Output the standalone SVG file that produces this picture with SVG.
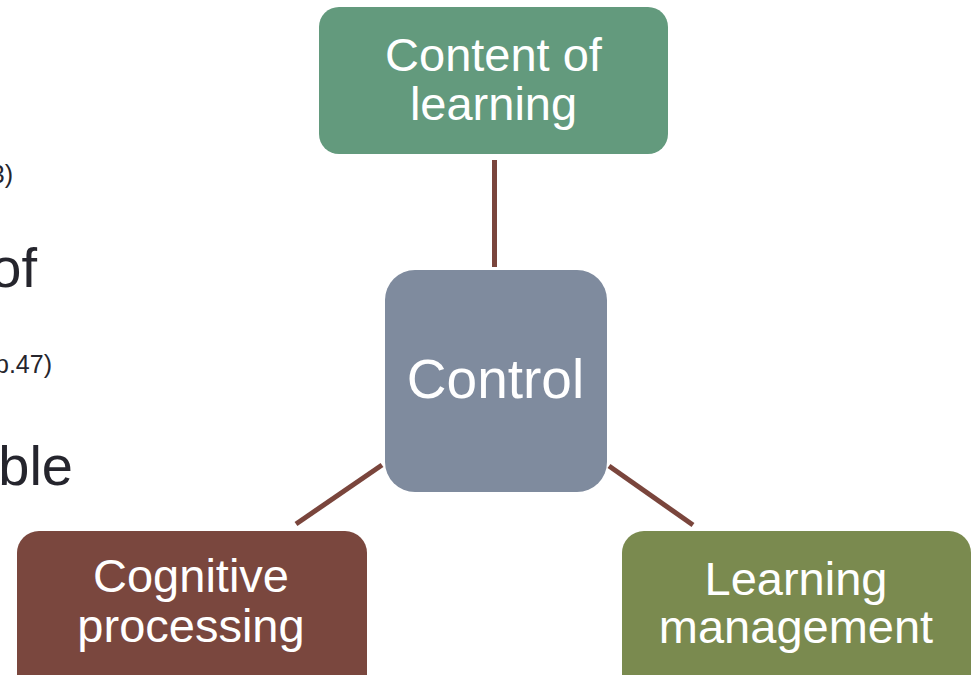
<svg xmlns="http://www.w3.org/2000/svg" width="974" height="675" viewBox="0 0 974 675">
<style>
.bg{fill:#ffffff}
.lbl{font-family:"Liberation Sans",Arial,sans-serif;fill:#ffffff;text-anchor:middle}
.side{font-family:"Liberation Sans",Arial,sans-serif;fill:#25252d;text-anchor:end}
.conn{stroke:#7a453c;stroke-width:5;fill:none}
</style>
<rect class="bg" x="0" y="0" width="974" height="675"/>
<g id="side-text">
<text class="side" x="13" y="183" font-size="25">3)</text>
<text class="side" x="37" y="287" font-size="56">of</text>
<text class="side" x="52" y="373" font-size="25">p.47)</text>
<text class="side" x="73" y="485" font-size="56">ble</text>
</g>
<g id="connectors">
<line class="conn" x1="494.5" y1="160" x2="494.5" y2="267"/>
<line class="conn" x1="382" y1="465" x2="296" y2="524"/>
<line class="conn" x1="609" y1="466" x2="693" y2="525"/>
</g>
<g id="node-content">
<rect x="319" y="7" width="349" height="147" rx="20" fill="#639a7d"/>
<text class="lbl" x="493.5" y="71" font-size="47">Content of</text>
<text class="lbl" x="493.5" y="120" font-size="47">learning</text>
</g>
<g id="node-control">
<rect x="385" y="270" width="222" height="222" rx="30" fill="#7f8b9e"/>
<text class="lbl" x="495.5" y="398" font-size="55">Control</text>
</g>
<g id="node-cognitive">
<rect x="17" y="531" width="350" height="170" rx="22" fill="#7a473e"/>
<text class="lbl" x="191" y="592" font-size="47">Cognitive</text>
<text class="lbl" x="191" y="642" font-size="47">processing</text>
</g>
<g id="node-learning">
<rect x="622" y="531" width="349" height="170" rx="22" fill="#7a8a4f"/>
<text class="lbl" x="796" y="595" font-size="47">Learning</text>
<text class="lbl" x="796" y="643" font-size="47">management</text>
</g>
</svg>
